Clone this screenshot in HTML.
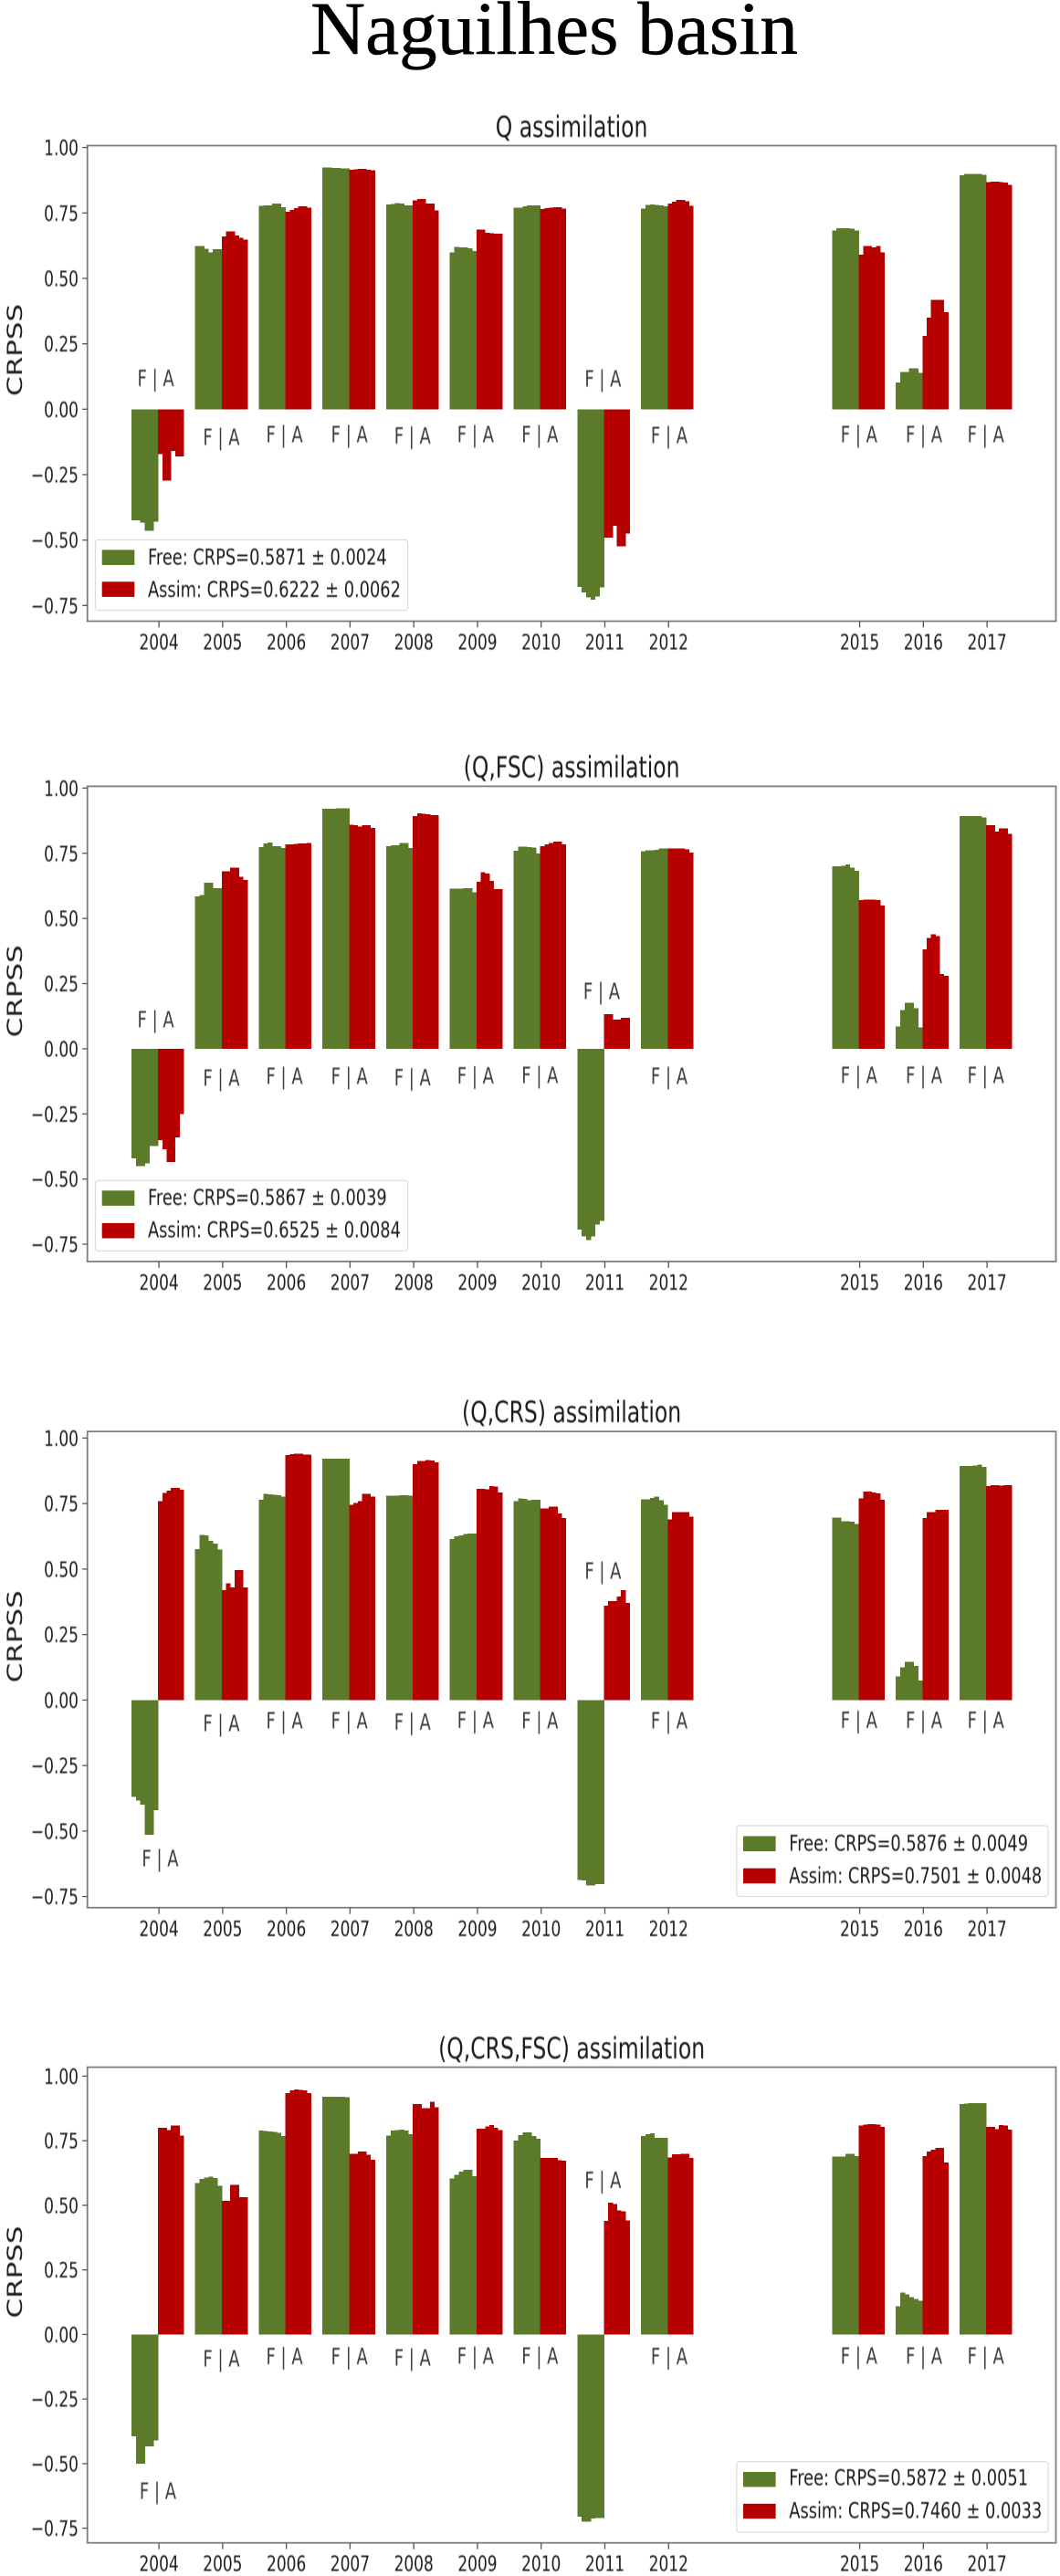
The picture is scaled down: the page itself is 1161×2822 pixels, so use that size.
<!DOCTYPE html>
<html lang="en">
<head>
<meta charset="utf-8">
<title>Naguilhes basin</title>
<style>
  html, body { margin: 0; padding: 0; background: #fff; }
  svg { display: block; }
  text { font-family: "DejaVu Sans", "Liberation Sans", sans-serif; fill: #1c1c1c; filter: blur(0.35px); }
  #main-title { font-family: "Liberation Serif", serif; fill: #000; stroke: #000; stroke-width: 0.5px; filter: none; }
</style>
</head>
<body>
<svg id="figure" xmlns="http://www.w3.org/2000/svg" width="1161" height="2822" viewBox="0 0 1161 2822">
  <text id="main-title" x="340" y="59" font-size="83" textLength="534" lengthAdjust="spacingAndGlyphs">Naguilhes basin</text>
</svg>
<script>
// ---------- chart data ----------
const years = [2004, 2005, 2006, 2007, 2008, 2009, 2010, 2011, 2012, 2015, 2016, 2017];
const yTickValues = [1, 0.75, 0.5, 0.25, 0, -0.25, -0.5, -0.75];
const yTickLabels = ["1.00", "0.75", "0.50", "0.25", "0.00", "\u22120.25", "\u22120.50", "\u22120.75"];
const panelTitles = ["Q assimilation", "(Q,FSC) assimilation", "(Q,CRS) assimilation", "(Q,CRS,FSC) assimilation"];
const freeLegend = ["Free: CRPS=0.5871 \u00b1 0.0024", "Free: CRPS=0.5867 \u00b1 0.0039", "Free: CRPS=0.5876 \u00b1 0.0049", "Free: CRPS=0.5872 \u00b1 0.0051"];
const assimLegend = ["Assim: CRPS=0.6222 \u00b1 0.0062", "Assim: CRPS=0.6525 \u00b1 0.0084", "Assim: CRPS=0.7501 \u00b1 0.0048", "Assim: CRPS=0.7460 \u00b1 0.0033"];

const qFree = [
  [-.425,-.425,-.433,-.465,-.465,-.43],
  [.624,.624,.614,.6,.611,.611],
  [.777,.778,.778,.785,.785,.772],
  [.923,.923,.922,.921,.92,.92],
  [.782,.784,.788,.785,.779,.779],
  [.6,.62,.619,.618,.615,.605],
  [.771,.771,.775,.778,.779,.778],
  [-.679,-.70,-.72,-.728,-.715,-.68],
  [.766,.78,.782,.781,.778,.776],
  [.683,.692,.692,.692,.69,.683],
  [.103,.142,.142,.157,.157,.139],
  [.894,.899,.9,.9,.899,.895]
];
const qAssim = [
  [-.172,-.272,-.272,-.16,-.18,-.18],
  [.66,.68,.68,.664,.655,.648],
  [.755,.762,.768,.776,.776,.77],
  [.915,.916,.918,.918,.915,.913],
  [.798,.803,.803,.786,.786,.76],
  [.686,.686,.675,.672,.67,.67],
  [.765,.768,.77,.772,.772,.766],
  [-.49,-.49,-.445,-.524,-.524,-.475],
  [.785,.793,.80,.80,.795,.777],
  [.59,.623,.623,.618,.623,.6],
  [.28,.349,.417,.417,.417,.37],
  [.867,.869,.869,.868,.866,.858]
];
const qfscFree = [
  [-.42,-.45,-.45,-.44,-.374,-.374],
  [.584,.59,.637,.637,.616,.616],
  [.774,.788,.792,.778,.778,.771],
  [.921,.921,.92,.922,.923,.923],
  [.778,.78,.78,.789,.789,.771],
  [.615,.615,.615,.616,.616,.6],
  [.76,.776,.776,.773,.772,.75],
  [-.694,-.72,-.735,-.72,-.675,-.66],
  [.758,.761,.762,.764,.768,.769],
  [.70,.70,.702,.708,.695,.682],
  [.086,.148,.176,.176,.155,.082],
  [.893,.893,.893,.893,.892,.888]
];
const qfscAssim = [
  [-.35,-.385,-.434,-.434,-.34,-.25],
  [.681,.681,.695,.695,.66,.648],
  [.784,.785,.786,.787,.788,.789],
  [.859,.858,.852,.858,.858,.848],
  [.893,.903,.902,.899,.897,.896],
  [.64,.677,.672,.645,.612,.612],
  [.778,.785,.79,.794,.794,.785],
  [.132,.132,.111,.112,.119,.119],
  [.768,.769,.769,.768,.765,.752],
  [.57,.572,.573,.573,.57,.55],
  [.381,.425,.439,.433,.287,.28],
  [.857,.857,.834,.845,.845,.825]
];
const qcrsFree = [
  [-.37,-.384,-.40,-.515,-.515,-.421],
  [.576,.631,.628,.607,.598,.575],
  [.765,.787,.786,.784,.782,.777],
  [.921,.921,.921,.921,.921,.921],
  [.78,.78,.781,.782,.782,.78],
  [.614,.625,.628,.633,.635,.635],
  [.76,.769,.768,.763,.764,.764],
  [-.687,-.688,-.708,-.708,-.702,-.702],
  [.766,.767,.772,.777,.762,.745],
  [.697,.697,.683,.683,.68,.672],
  [.09,.125,.146,.146,.13,.075],
  [.894,.894,.894,.895,.898,.89]
];
const qcrsAssim = [
  [.76,.79,.80,.81,.81,.803],
  [.42,.445,.43,.497,.497,.43],
  [.935,.938,.94,.94,.937,.937],
  [.745,.752,.76,.787,.787,.777],
  [.90,.912,.913,.916,.915,.908],
  [.807,.807,.804,.817,.815,.793],
  [.731,.731,.738,.738,.713,.695],
  [.36,.377,.377,.395,.419,.37],
  [.69,.717,.718,.718,.718,.7],
  [.77,.796,.796,.792,.788,.765],
  [.694,.718,.718,.727,.727,.727],
  [.817,.82,.82,.818,.82,.82]
];
const qcrsfscFree = [
  [-.395,-.50,-.50,-.434,-.434,-.411],
  [.586,.602,.608,.611,.605,.575],
  [.789,.788,.785,.784,.78,.768],
  [.921,.921,.921,.92,.92,.919],
  [.77,.79,.792,.793,.79,.775],
  [.604,.618,.63,.637,.637,.612],
  [.75,.772,.782,.782,.768,.758],
  [-.705,-.724,-.724,-.712,-.71,-.71],
  [.768,.775,.778,.762,.761,.761],
  [.688,.688,.688,.70,.70,.69],
  [.11,.163,.155,.145,.137,.131],
  [.892,.893,.895,.895,.895,.895]
];
const qcrsfscAssim = [
  [.80,.80,.792,.808,.808,.77],
  [.517,.517,.579,.579,.531,.531],
  [.935,.945,.948,.947,.945,.935],
  [.70,.70,.709,.709,.695,.676],
  [.892,.892,.876,.876,.90,.88],
  [.797,.797,.805,.811,.8,.792],
  [.683,.683,.683,.683,.675,.672],
  [.44,.51,.505,.48,.476,.441],
  [.685,.697,.697,.70,.70,.683],
  [.808,.812,.815,.815,.812,.804],
  [.69,.708,.715,.723,.723,.665],
  [.803,.803,.795,.81,.808,.793]
];
const freeSeries = [qFree, qfscFree, qcrsFree, qcrsfscFree];
const assimSeries = [qAssim, qfscAssim, qcrsAssim, qcrsfscAssim];

// "F | A" annotation anchor per year, in CRPSS units and in fractions of a year
const annotationValues = [
  [.088,-.137,-.127,-.127,-.131,-.126,-.126,.087,-.13,-.126,-.126,-.126],
  [.082,-.143,-.136,-.136,-.14,-.133,-.132,.19,-.136,-.132,-.132,-.132],
  [-.635,-.119,-.109,-.109,-.113,-.106,-.109,.463,-.109,-.106,-.106,-.106],
  [-.637,-.124,-.116,-.116,-.12,-.113,-.113,.567,-.116,-.113,-.113,-.113]
];
const annotationShift = [
  [-.05,-.02,-.03,-.01,-.02,-.03,-.02,-.03,.01,-.01,.01,-.02],
  [-.05,-.02,-.03,-.01,-.02,-.03,-.02,-.05,.01,-.01,.01,-.02],
  [.02,-.02,-.03,-.01,-.02,-.03,-.02,-.03,.01,-.01,.01,-.02],
  [-.016,-.02,-.03,-.01,-.02,-.03,-.02,-.03,.01,-.01,.01,-.02]
];

// ---------- layout ----------
const SVGNS = "http://www.w3.org/2000/svg";
const figure = document.getElementById("figure");
const STRETCH = 1.37;
const LEFT = 95.7, RIGHT = 1156.5;
const frames = [
  { top: 159.5, bottom: 680.5, zero: 448.3, unit: 286.7, titleY: 150, labelY: 383.4,
    legend: { x: 104.5, y: 591.4, w: 342.1, h: 77.1, sw1: 602.4, sw2: 637.3, swh: 16.6, bl1: 618.5, bl2: 653.8 } },
  { top: 861.4, bottom: 1382, zero: 1148.9, unit: 285.5, titleY: 851.5, labelY: 1085.8,
    legend: { x: 104.5, y: 1293.2, w: 342.1, h: 77.1, sw1: 1304.3, sw2: 1339.9, swh: 16.6, bl1: 1320, bl2: 1355.7 } },
  { top: 1568.2, bottom: 2089.8, zero: 1862.4, unit: 287, titleY: 1558, labelY: 1792.8,
    legend: { x: 806.8, y: 2000, w: 341.2, h: 77.5, sw1: 2011.5, sw2: 2046.7, swh: 16.6, bl1: 2027.3, bl2: 2062.9 } },
  { top: 2264.6, bottom: 2785.7, zero: 2557.4, unit: 283, titleY: 2255, labelY: 2489,
    legend: { x: 806.8, y: 2696.7, w: 341.2, h: 77.3, sw1: 2708, sw2: 2742.8, swh: 16.4, bl1: 2722.5, bl2: 2758.4 } }
];
const FREE_COLOR = "#5b7b2a", ASSIM_COLOR = "#b70000";
const FREE_START = -0.433, SPLIT = -0.014, ASSIM_END = 0.388;

function xScale(year) { return 174.1 + 69.77 * (year - 2004); }
function yScale(frame, value) { return frame.zero - value * frame.unit; }

function stretchedText(content, x, y, size, anchor, color) {
  const t = document.createElementNS(SVGNS, "text");
  t.textContent = content;
  t.setAttribute("transform", "translate(" + x + " " + y + ") scale(1 " + STRETCH + ")");
  t.setAttribute("font-size", size);
  t.setAttribute("text-anchor", anchor);
  if (color) t.style.fill = color;
  return t;
}

function drawSeries(group, frame, series, start, end, color, label) {
  series.forEach(function (values, yi) {
    const year = years[yi];
    const step = (end - start) / values.length;
    values.forEach(function (v, i) {
      const x0 = xScale(year + start + i * step);
      const x1 = xScale(year + start + (i + 1) * step);
      const y0 = yScale(frame, Math.max(v, 0));
      const y1 = yScale(frame, Math.min(v, 0));
      const r = document.createElementNS(SVGNS, "rect");
      
      
      r.setAttribute("x", x0);
      r.setAttribute("y", y0);
      r.setAttribute("width", x1 - x0 + 0.4);
      r.setAttribute("height", y1 - y0);
      r.setAttribute("fill", color);
      r.setAttribute("shape-rendering", "crispEdges");
      group.appendChild(r);
    });
  });
}

frames.forEach(function (frame, p) {
  const g = document.createElementNS(SVGNS, "g");
  
  
  figure.appendChild(g);

  drawSeries(g, frame, freeSeries[p], FREE_START, SPLIT, FREE_COLOR, "free");
  drawSeries(g, frame, assimSeries[p], SPLIT, ASSIM_END, ASSIM_COLOR, "assim");

  // plot frame
  const box = document.createElementNS(SVGNS, "rect");
  
  
  box.setAttribute("x", LEFT);
  box.setAttribute("y", frame.top);
  box.setAttribute("width", RIGHT - LEFT);
  box.setAttribute("height", frame.bottom - frame.top);
  box.setAttribute("fill", "none");
  box.setAttribute("stroke", "#7d7d7d");
  box.setAttribute("stroke-width", "1.8");
  g.appendChild(box);

  // y ticks
  yTickValues.forEach(function (v, i) {
    const py = yScale(frame, v);
    const tick = document.createElementNS(SVGNS, "line");
    
    
    tick.setAttribute("x1", LEFT - 5.5);
    tick.setAttribute("x2", LEFT);
    tick.setAttribute("y1", py);
    tick.setAttribute("y2", py);
    tick.setAttribute("stroke", "#555");
    tick.setAttribute("stroke-width", "1.3");
    g.appendChild(tick);
    const lab = stretchedText(yTickLabels[i], 86, py + 8.5, 17, "end");
    
    
    g.appendChild(lab);
  });

  // x ticks and annotations
  years.forEach(function (year, i) {
    const px = xScale(year);
    const tick = document.createElementNS(SVGNS, "line");
    
    
    tick.setAttribute("x1", px);
    tick.setAttribute("x2", px);
    tick.setAttribute("y1", frame.bottom);
    tick.setAttribute("y2", frame.bottom + 7);
    tick.setAttribute("stroke", "#555");
    tick.setAttribute("stroke-width", "1.3");
    g.appendChild(tick);
    const lab = stretchedText(String(year), px, frame.bottom + 31, 17, "middle");
    
    
    g.appendChild(lab);
    const note = stretchedText("F | A", xScale(year + annotationShift[p][i]), yScale(frame, annotationValues[p][i]), 18, "middle", "#3d3d3d");
    
    
    g.appendChild(note);
  });

  // axis title and panel title
  const yTitle = document.createElementNS(SVGNS, "text");
  yTitle.textContent = "CRPSS";
  
  
  yTitle.setAttribute("transform", "translate(24 " + frame.labelY + ") scale(1 " + STRETCH + ") rotate(-90)");
  yTitle.setAttribute("font-size", "22.6");
  yTitle.setAttribute("text-anchor", "middle");
  g.appendChild(yTitle);

  const pTitle = stretchedText(panelTitles[p], (LEFT + RIGHT) / 2, frame.titleY, 23.5, "middle");
  
  
  g.appendChild(pTitle);

  // legend
  const L = frame.legend;
  const lg = document.createElementNS(SVGNS, "g");
  
  
  g.appendChild(lg);
  const lbox = document.createElementNS(SVGNS, "rect");
  
  
  lbox.setAttribute("x", L.x);
  lbox.setAttribute("y", L.y);
  lbox.setAttribute("width", L.w);
  lbox.setAttribute("height", L.h);
  lbox.setAttribute("rx", 3);
  lbox.setAttribute("fill", "#fff");
  lbox.setAttribute("stroke", "#dcdcdc");
  lbox.setAttribute("stroke-width", "1.2");
  lg.appendChild(lbox);

  const swFree = document.createElementNS(SVGNS, "rect");
  
  
  swFree.setAttribute("x", L.x + 7.2);
  swFree.setAttribute("y", L.sw1);
  swFree.setAttribute("width", 35.6);
  swFree.setAttribute("height", L.swh);
  swFree.setAttribute("fill", FREE_COLOR);
  lg.appendChild(swFree);

  const swAssim = document.createElementNS(SVGNS, "rect");
  
  
  swAssim.setAttribute("x", L.x + 7.2);
  swAssim.setAttribute("y", L.sw2);
  swAssim.setAttribute("width", 35.6);
  swAssim.setAttribute("height", L.swh);
  swAssim.setAttribute("fill", ASSIM_COLOR);
  lg.appendChild(swAssim);

  const tFree = stretchedText(freeLegend[p], L.x + 57.5, L.bl1, 17.8, "start");
  
  
  lg.appendChild(tFree);

  const tAssim = stretchedText(assimLegend[p], L.x + 57.5, L.bl2, 17.8, "start");
  
  
  lg.appendChild(tAssim);
});
</script>
</body>
</html>
